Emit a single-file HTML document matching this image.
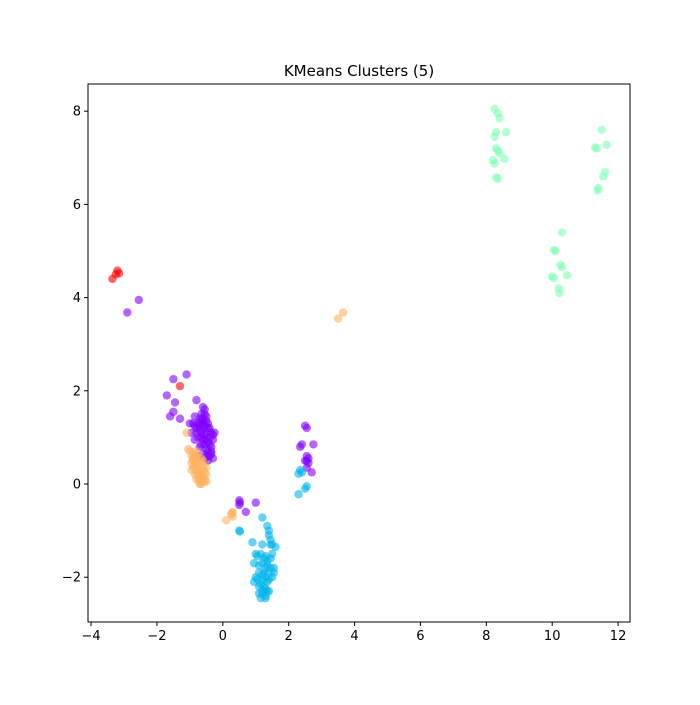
<!DOCTYPE html>
<html><head><meta charset="utf-8"><style>
body{margin:0;background:#fff;font-family:"Liberation Sans","DejaVu Sans",sans-serif}
svg text{font-family:"DejaVu Sans","Liberation Sans",sans-serif;font-size:13px;fill:#000}
</style></head><body>
<svg width="700" height="700">
<rect width="700" height="700" fill="#fff"/>
<text x="359" y="76" text-anchor="middle" style="font-size:15px">KMeans Clusters (5)</text>
<g id="pts"></g>
<rect x="88" y="84" width="542" height="538" fill="none" stroke="#000" stroke-width="1"/>
<g id="axes"></g>
</svg>
<script>
const xTicks=[-4,-2,0,2,4,6,8,10,12];
const yTicks=[-2,0,2,4,6,8];
const clusterColors=["#8000ff","#00b5eb","#80ffb4","#ffb360","#ff0000"];
const green=[[8.25,8.05],[8.35,7.95],[8.4,7.85],[8.3,7.55],[8.25,7.45],[8.6,7.55],[8.3,7.2],[8.35,7.15],[8.4,7.1],[8.2,6.95],[8.25,6.88],[8.55,6.98],[8.3,6.58],[8.35,6.55],[11.5,7.6],[11.3,7.22],[11.35,7.2],[11.65,7.28],[11.6,6.7],[11.55,6.6],[11.4,6.35],[11.38,6.3],[10.3,5.4],[10.05,5.02],[10.1,5.0],[10.25,4.7],[10.3,4.65],[10.45,4.48],[10.0,4.45],[10.05,4.42],[10.2,4.2],[10.22,4.1]];
const red=[[-3.2,4.58],[-3.15,4.52],[-3.25,4.5],[-3.35,4.4],[-1.3,2.1]];
const orange=[[3.5,3.55],[3.65,3.68],[0.3,-0.6],[0.25,-0.65],[0.1,-0.78],[0.3,-0.7],[0.28,-0.62],[-1.1,1.1],[-1.05,0.75],[-1.0,0.7],[-0.95,0.6],[-0.9,0.5],[-0.85,0.4],[-0.95,0.3],[-0.8,0.3],[-0.75,0.2],[-0.7,0.1],[-0.65,0.05],[-0.7,0.0],[-0.6,0.15],[-0.55,0.25],[-0.6,0.4],[-0.65,0.55],[-0.75,0.65],[-0.85,0.2],[-0.8,0.1],[-0.55,0.05],[-0.5,0.2],[-0.9,0.65],[-0.7,0.45],[-0.75,0.35],[-0.9,0.55],[-0.85,0.45],[-0.8,0.5],[-0.7,0.3],[-0.65,0.2],[-0.6,0.3],[-0.55,0.1],[-0.5,0.05],[-0.65,0.0],[-0.72,0.05],[-0.8,0.6],[-0.75,0.15],[-0.6,0.5],[-0.9,0.35],[-0.85,0.7],[-0.95,0.45],[-0.5,0.35]];
const purple=[[-2.55,3.95],[-2.9,3.68],[-1.5,2.25],[-1.1,2.35],[-1.7,1.9],[-1.45,1.75],[-1.6,1.45],[-1.5,1.55],[-1.3,1.4],[-0.8,1.8],[-1.0,1.3],[0.5,-0.35],[0.5,-0.45],[0.7,-0.6],[1.0,-0.4],[-0.6,1.65],[-0.55,1.6],[-0.65,1.5],[-0.5,1.45],[-0.7,1.4],[-0.85,1.45],[-0.9,1.3],[-0.8,1.2],[-0.6,1.3],[-0.45,1.3],[-0.4,1.2],[-0.35,1.1],[-0.5,1.1],[-0.65,1.1],[-0.75,1.0],[-0.85,0.95],[-0.6,0.95],[-0.45,0.9],[-0.35,0.8],[-0.5,0.75],[-0.7,0.8],[-0.6,0.65],[-0.4,0.6],[-0.3,0.55],[-0.55,0.55],[-0.75,0.6],[-0.3,1.05],[-0.7,1.25],[-0.95,1.1],[-0.45,0.5],[-0.55,1.5],[-0.6,1.4],[-0.5,1.35],[-0.65,1.35],[-0.75,1.3],[-0.55,1.25],[-0.45,1.2],[-0.6,1.2],[-0.7,1.15],[-0.55,1.05],[-0.4,1.0],[-0.65,1.0],[-0.5,0.95],[-0.55,0.85],[-0.4,0.85],[-0.65,0.85],[-0.45,0.7],[-0.35,0.65],[-0.5,0.6],[-0.8,1.1],[-0.85,1.25],[-0.3,0.95],[-0.25,1.1],[-0.35,0.7],[0.52,-0.4],[2.5,1.25],[2.55,1.2],[2.4,0.85],[2.35,0.8],[2.75,0.85],[2.55,0.6],[2.5,0.5],[2.6,0.45],[2.55,0.35],[2.7,0.25],[2.55,0.5],[2.6,0.55]];
const blue=[[2.35,0.3],[2.3,0.22],[2.4,0.25],[2.55,-0.05],[2.5,-0.1],[2.3,-0.22],[0.9,-1.25],[1.2,-0.72],[0.95,-1.7],[0.5,-1.0],[0.52,-1.02],[1.35,-0.9],[1.4,-1.0],[1.45,-1.2],[1.5,-1.3],[1.6,-1.35],[1.2,-1.3],[1.15,-1.5],[1.3,-1.55],[1.0,-1.5],[1.2,-1.7],[1.35,-1.75],[1.4,-1.9],[1.55,-1.9],[1.1,-1.9],[1.0,-2.0],[1.2,-2.05],[1.35,-2.1],[1.5,-2.0],[1.3,-2.25],[1.1,-2.2],[1.4,-2.3],[1.2,-2.35],[1.15,-2.45],[1.3,-2.4],[0.95,-2.1],[1.45,-1.6],[1.25,-1.9],[1.4,-1.1],[1.45,-1.3],[1.05,-1.55],[1.25,-1.6],[1.35,-1.65],[1.1,-1.75],[1.3,-1.8],[1.45,-1.8],[1.2,-1.95],[1.05,-2.05],[1.3,-2.0],[1.4,-2.05],[1.15,-2.15],[1.25,-2.2],[1.35,-2.3],[1.2,-2.3],[1.3,-2.45],[1.1,-2.35],[1.5,-1.5],[1.55,-1.8]];
const groups=[purple,blue,green,orange,red];
const L=88,R=630,T=84,B=622;
const xs=v=>222.8+v*32.94, ys=v=>484-v*46.6;
const NS="http://www.w3.org/2000/svg";
const pg=document.getElementById('pts'), ax=document.getElementById('axes');
groups.forEach((g,gi)=>g.forEach(p=>{
 const c=document.createElementNS(NS,'circle');
 c.setAttribute('cx',xs(p[0]));c.setAttribute('cy',ys(p[1]));c.setAttribute('r',4.2);
 c.setAttribute('fill',clusterColors[gi]);c.setAttribute('fill-opacity',0.6);
 
 
 pg.appendChild(c);
}));
xTicks.forEach(t=>{
 const x=xs(t);
 const l=document.createElementNS(NS,'line');
 l.setAttribute('x1',x);l.setAttribute('x2',x);l.setAttribute('y1',B);l.setAttribute('y2',B+4);l.setAttribute('stroke','#000');
 
 
 ax.appendChild(l);
 const tx=document.createElementNS(NS,'text');
 tx.setAttribute('x',x);tx.setAttribute('y',B+18);tx.setAttribute('text-anchor','middle');
 tx.textContent=t<0?'\u2212'+(-t):t;
 
 
 ax.appendChild(tx);
});
yTicks.forEach(t=>{
 const y=ys(t);
 const l=document.createElementNS(NS,'line');
 l.setAttribute('x1',L-4);l.setAttribute('x2',L);l.setAttribute('y1',y);l.setAttribute('y2',y);l.setAttribute('stroke','#000');
 
 
 ax.appendChild(l);
 const tx=document.createElementNS(NS,'text');
 tx.setAttribute('x',L-7);tx.setAttribute('y',y+4.5);tx.setAttribute('text-anchor','end');
 tx.textContent=t<0?'\u2212'+(-t):t;
 
 
 ax.appendChild(tx);
});
</script>
</body></html>
